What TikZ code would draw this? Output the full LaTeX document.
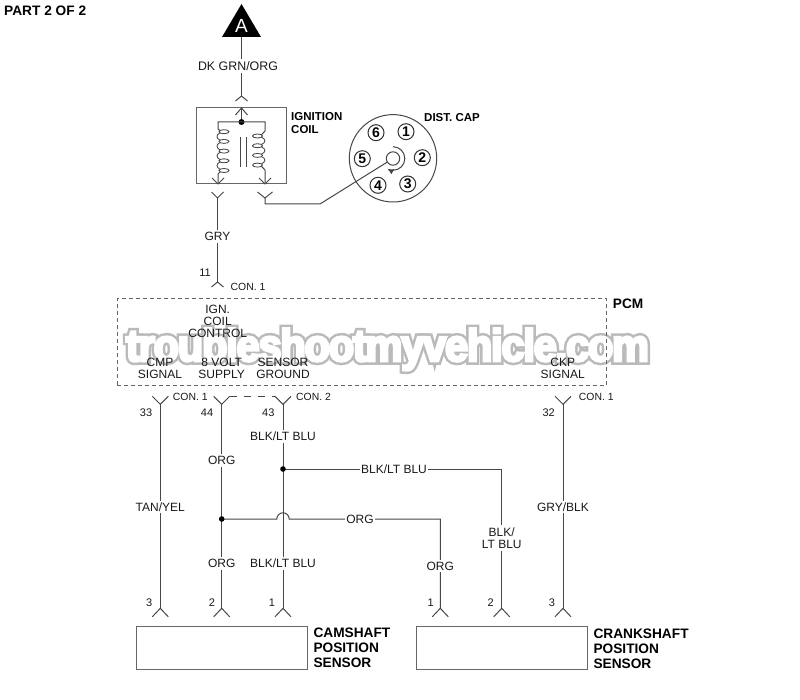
\documentclass[tikz,border=0pt]{standalone}
\usepackage{fontspec}
\setmainfont{Liberation Sans}
\newfontfamily\wmback[FakeBold=17,FakeStretch=0.92,LetterSpace=-2.5]{Liberation Sans Bold}
\newfontfamily\wmfront[FakeBold=6,FakeStretch=0.92,LetterSpace=-2.5]{Liberation Sans Bold}
\usetikzlibrary{arrows.meta}
\tikzset{
    wire/.style={draw=black!72, line width=1pt},
    lbl/.style={inner sep=0pt, text=black!90, align=center, font=\fontsize{12}{12.2}\selectfont},
    wirelbl/.style={lbl, fill=white, inner xsep=1.5pt, inner ysep=2pt},
    pinlbl/.style={inner sep=0pt, text=black!90, font=\fontsize{11}{12}\selectfont},
    conlbl/.style={inner sep=0pt, anchor=west, text=black!90, font=\fontsize{10.4}{12}\selectfont},
    boldlbl/.style={inner sep=0pt, anchor=west, text=black, font=\fontsize{13.7}{14}\selectfont\bfseries},
    coillbl/.style={inner sep=0pt, anchor=west, text=black, font=\fontsize{11.5}{12}\selectfont\bfseries},
    sensorbox/.style={draw=black!60, line width=1pt, minimum width=170.7pt, minimum height=43.4pt, inner sep=0pt},
    capnum/.style={draw=black!80, circle, line width=1pt, minimum size=16pt, inner sep=0pt, font=\fontsize{14}{14}\selectfont\bfseries},
    wmark/.style={inner sep=0pt, anchor=base},
}
% fork at a pin: #1 point, #2 half width, #3 height (negative opens upwards)
\newcommand{\pinfork}[3]{\draw[wire] ([shift={(-#2,#3)}]#1) -- (#1) -- ([shift={(#2,#3)}]#1);}
\begin{document}
\begin{tikzpicture}[x=1pt, y=-1pt]
    \useasboundingbox[fill=white] (0,0) rectangle (800,700);
    % watermark
    \node[wmark, text=black!27, font=\fontsize{45}{45}\wmback] (wmback) at (387.5,361) {troubleshootmyvehicle.com};
    \node[wmark, text=white, font=\fontsize{45}{45}\wmfront] (wmfront) at (387.5,361) {troubleshootmyvehicle.com};

    \node[boldlbl] (part) at (4,11) {PART 2 OF 2};

    % connector A
    \fill[black] (241.5,4) -- (222,37) -- (261,37) -- cycle;
    \node[inner sep=0pt, text=white, font=\fontsize{19}{19}\selectfont] (tria) at (241.5,26) {A};
    \coordinate (triabase) at (241.5,37);
    \coordinate (coiltop) at (241.5,96);
    \draw[wire] (triabase) -- (coiltop);
    \pinfork{coiltop}{6}{5}
    \node[wirelbl, font=\fontsize{12.4}{13}\selectfont] (dkgrn) at (238,66) {DK GRN/ORG};

    % ignition coil
    \node[sensorbox, minimum width=90pt, minimum height=76pt] (coilbox) at (241,146) {};
    \coordinate (coilin) at (241.5,108);
    \coordinate (coildot) at (241.5,122);
    \coordinate (coilL) at (218,122);
    \coordinate (coilR) at (265,122);
    \coordinate (coilLend) at (218,184);
    \coordinate (coilRend) at (265,184);
    \draw[wire] (coilin) -- (coildot);
    \pinfork{coilin}{6}{7}
    \fill[black] (coildot) circle (3);
    \draw[wire] (220,130.5) -- (218,129) -- (coilL) -- (coilR) -- (265,131) -- (261.5,134.8);
    \draw[wire] (220,172) -- (218,174) -- (coilLend);
    \draw[wire] (261.5,166.3) -- (265,170) -- (coilRend);
    \pinfork{coilLend}{6}{-6}
    \pinfork{coilRend}{6}{-6}
    \foreach \y in {131.7,141.4,151.1,160.8,170.5}
        \draw[wire, line width=0.85pt] (224,\y) ellipse (5 and 2);
    \foreach \y in {131.7,141.4,151.1,160.8}
        \draw[wire, line width=0.85pt] (220,\y+1.2) .. controls (216,\y+3) and (216,\y+6.5) .. (220,\y+8.5);
    \foreach \y in {136,145.7,155.4,165.1}
        \draw[wire, line width=0.85pt] (257.5,\y) ellipse (5 and 2);
    \foreach \y in {136,145.7,155.4}
        \draw[wire, line width=0.85pt] (261.5,\y+1.2) .. controls (266,\y+3) and (266,\y+6.5) .. (261.5,\y+8.5);
    \draw[wire] (240.8,137) -- (240.8,167);
    \draw[wire] (246.8,137) -- (246.8,167);
    \node[coillbl] (ignlbl) at (291,117) {IGNITION};
    \node[coillbl] (coillbl) at (291,130) {COIL};

    % wire to PCM
    \coordinate (grytop) at (217.5,198);
    \coordinate (grybot) at (217.5,282);
    \draw[wire] (grytop) -- (grybot);
    \pinfork{grytop}{6}{-6}
    \pinfork{grybot}{6}{5}
    \node[wirelbl] (gry) at (217.5,236.5) {GRY};
    \node[pinlbl] (pin11) at (205,273) {11};
    \node[conlbl] (con11) at (230.5,287) {CON. 1};

    % distributor cap
    \node[draw=black!72, line width=1pt, circle, minimum size=87.4pt, inner sep=0pt] (cap) at (393,158.3) {};
    \node[draw=black!72, line width=1pt, circle, minimum size=13.4pt, inner sep=0pt] (hub) at (393,158.5) {};
    \coordinate (towerpin) at (265,198);
    \coordinate (towerbend) at (265,204);
    \coordinate (towerkink) at (320,204);
    \pinfork{towerpin}{7.5}{-6}
    \draw[wire] (towerpin) -- (towerbend) -- (towerkink) -- (hub);
    \draw[wire, -{Latex[length=6pt,width=6pt]}] (393,146.7) arc[start angle=-90, end angle=118, radius=11.8];
    \node[capnum] (num1) at (406,131.7) {1};
    \node[capnum] (num2) at (422.3,157.7) {2};
    \node[capnum] (num3) at (407.7,184) {3};
    \node[capnum] (num4) at (378,185.3) {4};
    \node[capnum] (num5) at (362.3,158.7) {5};
    \node[capnum] (num6) at (376,132.7) {6};
    \node[coillbl] (distlbl) at (424,118) {DIST. CAP};

    % PCM
    \node[draw=black!60, dash pattern=on 4pt off 3pt, line width=1pt, minimum width=489.4pt, minimum height=86.6pt, inner sep=0pt] (pcm) at (362,342) {};
    \node[boldlbl] (pcmlbl) at (612.7,303.7) {PCM};
    \node[lbl] (igncontrol) at (217.7,321.3) {IGN.\\COIL\\CONTROL};
    \node[lbl] (cmpsig) at (160,368.7) {CMP\\SIGNAL};
    \node[lbl] (volt) at (221.7,368.7) {8 VOLT\\SUPPLY};
    \node[lbl] (sensgnd) at (283,368.7) {SENSOR\\GROUND};
    \node[lbl] (ckpsig) at (562.7,368.7) {CKP\\SIGNAL};

    % PCM side pins
    \coordinate (pin33) at (160.3,404.3);
    \coordinate (pin44) at (221.7,404.3);
    \coordinate (pin43) at (283,404.3);
    \coordinate (pin32) at (563,404.3);
    \foreach \p in {pin33,pin44,pin43,pin32} {
        \pinfork{\p}{8}{-8}
    }
    \coordinate (dashL) at (229.7,396.3);
    \coordinate (dashR) at (275,396.3);
    \draw[wire, dash pattern=on 7pt off 7pt] (dashL) -- (dashR);
    \node[conlbl] (con1a) at (172.7,397) {CON. 1};
    \node[conlbl] (con2) at (296,397) {CON. 2};
    \node[conlbl] (con1b) at (578.7,397) {CON. 1};
    \node[pinlbl] (n33) at (146,412.3) {33};
    \node[pinlbl] (n44) at (207,412.3) {44};
    \node[pinlbl] (n43) at (268.3,412.3) {43};
    \node[pinlbl] (n32) at (548.7,412.3) {32};

    % sensor side pins
    \node[pinlbl] (camthree) at (149.3,602.7) {3};
    \node[pinlbl] (camtwo) at (212,602.7) {2};
    \node[pinlbl] (camone) at (272,602.7) {1};
    \node[pinlbl] (crkone) at (430.7,602.7) {1};
    \node[pinlbl] (crktwo) at (490.7,602.7) {2};
    \node[pinlbl] (crkthree) at (552,602.7) {3};
    \coordinate (cam3) at (160.3,608.3);
    \coordinate (cam2) at (221.7,608.3);
    \coordinate (cam1) at (283,608.3);
    \coordinate (crk1) at (440.3,608.3);
    \coordinate (crk2) at (501.7,608.3);
    \coordinate (crk3) at (563,608.3);
    \foreach \p in {cam3,cam2,cam1,crk1,crk2,crk3} {
        \pinfork{\p}{8}{8.5}
    }

    % wires
    \coordinate (orgjoin) at (221.7,519);
    \coordinate (blkjoin) at (283,469);
    \coordinate (blkcorner) at (501.7,469);
    \coordinate (orgcorner) at (440.3,519);
    \coordinate (hopL) at (276.8,519);
    \draw[wire] (pin33) -- (cam3);
    \draw[wire] (pin44) -- (cam2);
    \draw[wire] (pin43) -- (cam1);
    \draw[wire] (pin32) -- (crk3);
    \draw[wire] (blkjoin) -- (blkcorner) -- (crk2);
    \draw[wire] (orgjoin) -- (hopL) arc[start angle=180, end angle=360, radius=6.2] -- (orgcorner) -- (crk1);
    \fill[black] (orgjoin) circle (2.8);
    \fill[black] (blkjoin) circle (2.8);
    \node[wirelbl] (tanyel) at (160.3,507) {TAN/YEL};
    \node[wirelbl] (orgup) at (221.7,460.3) {ORG};
    \node[wirelbl] (orgdn) at (221.7,563.5) {ORG};
    \node[wirelbl] (blkup) at (283,436.7) {BLK/LT BLU};
    \node[wirelbl] (blkdn) at (283,563.5) {BLK/LT BLU};
    \node[wirelbl] (blkh) at (394,469) {BLK/LT BLU};
    \node[wirelbl] (orgh) at (360,519) {ORG};
    \node[wirelbl] (orgr) at (440.3,566) {ORG};
    \node[wirelbl] (blkr) at (501.7,538) {BLK/\\LT BLU};
    \node[wirelbl] (grybl) at (563,507) {GRY/BLK};

    % sensors
    \node[sensorbox] (cam) at (221.65,648) {};
    \node[sensorbox] (crk) at (501.65,648) {};
    \node[boldlbl] (cama) at (313.3,632.3) {CAMSHAFT};
    \node[boldlbl] (camb) at (313.3,647.5) {POSITION};
    \node[boldlbl] (camc) at (313.3,662.7) {SENSOR};
    \node[boldlbl] (crka) at (593.3,633.3) {CRANKSHAFT};
    \node[boldlbl] (crkb) at (593.3,648.5) {POSITION};
    \node[boldlbl] (crkc) at (593.3,663.7) {SENSOR};
\end{tikzpicture}
\end{document}
